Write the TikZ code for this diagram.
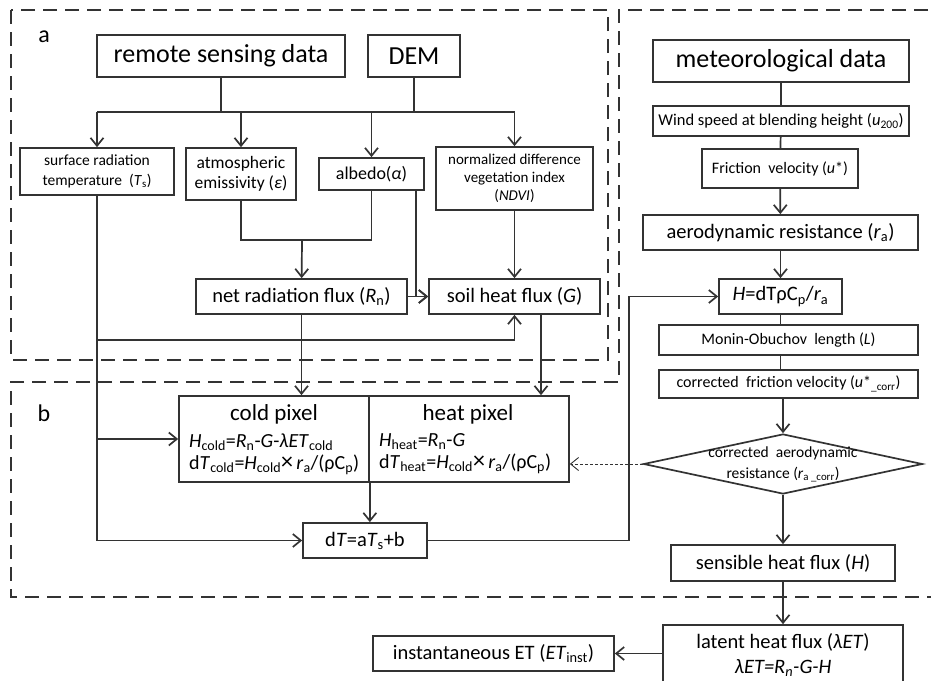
\documentclass[tikz,border=0pt]{standalone}
\usepackage{fontspec}
\setmainfont{Carlito}
\usetikzlibrary{arrows.meta,shapes.geometric}

\begin{document}
\begin{tikzpicture}[x=1pt,y=-1pt,
    box/.style={draw=black!80, line width=1.7pt, inner sep=0pt, align=center},
    link/.style={draw=black!80, line width=1.7pt},
    arr/.style={-{Straight Barb[length=8pt,width=13pt]}},
    frame/.style={draw=black!80, line width=2.4pt, dash pattern=on 14pt off 8pt},
    t26/.style={font=\fontsize{26}{30}\selectfont},
    t23/.style={font=\fontsize{23}{26}\selectfont},
    t20/.style={font=\fontsize{20.5}{24}\selectfont},
    t16/.style={font=\fontsize{16}{19}\selectfont}]
    %%%%% START %%%%%
    \useasboundingbox (0,0) rectangle (931,680);

    % dashed regions
    \draw[frame] (11,10) rectangle (608,360);
    \draw[frame] (950,10) -- (619,10) -- (619,382) -- (11,382) -- (11,597) -- (950,597);
    \node[font=\fontsize{24}{26}\selectfont] (lbla) at (44,37) {a};
    \node[font=\fontsize{24}{26}\selectfont] (lblb) at (44,413) {b};

    % part a
    \node[box,t26,minimum width=248pt,minimum height=42pt] (rsd) at (221,56) {remote sensing data};
    \node[box,t26,minimum width=92pt,minimum height=42pt] (dem) at (414,56) {DEM};
    \node[box,font=\fontsize{15.5}{20}\selectfont,minimum width=154pt,minimum height=47pt] (ts) at (97,171.5) {surface radiation\\temperature~~(\textit{T}\textsubscript{s})};
    \node[box,font=\fontsize{17.5}{20}\selectfont,minimum width=110pt,minimum height=52pt] (atm) at (241,174) {atmospheric\\emissivity (\textit{ε})};
    \node[box,font=\fontsize{18}{20}\selectfont,minimum width=105pt,minimum height=32pt] (alb) at (371.5,174) {albedo(\textit{α})};
    \node[box,font=\fontsize{15}{18}\selectfont,minimum width=157pt,minimum height=63pt] (ndvi) at (514.5,178.5) {normalized difference\\vegetation index\\(\textit{NDVI})};
    \node[box,t20,minimum width=211pt,minimum height=35pt] (netrad) at (301.5,296.5) {net radiation flux (\textit{R}\textsubscript{n})};
    \node[box,t20,minimum width=171pt,minimum height=35pt] (soil) at (514.5,296.5) {soil heat flux (\textit{G})};

    \coordinate (bus) at (222,112);
    \draw[link] (rsd) -- (rsd |- bus);
    \draw[link] (dem) -- (dem |- bus);
    \draw[link] (ts |- bus) -- (ndvi |- bus);
    \foreach \n in {ts,atm,alb,ndvi}
        \draw[link,arr] (\n |- bus) -- (\n);

    \coordinate (mrg) at (302,240);
    \draw[link] (atm) |- (mrg) -| (alb);
    \draw[link,arr] (mrg) -- (netrad);
    \draw[link,arr] ([xshift=44.5pt]alb.south) |- (soil);
    \draw[link,arr] (netrad) -- (soil);
    \draw[link,arr] (ndvi) -- (soil);

    % part b
    \node[box,minimum width=190pt,minimum height=86pt] (cold) at (274,439) {};
    \node[box,minimum width=200pt,minimum height=86pt] (heat) at (469,439) {};
    \node[t23] (coldt) at (274,414) {cold pixel};
    \node[t23] (heatt) at (468,414) {heat pixel};
    \node[font=\fontsize{20}{22}\selectfont,align=left,anchor=west,inner sep=0pt] (coldf) at (189,454)
        {\textit{H}\textsubscript{cold}=\textit{R}\textsubscript{n}-\textit{G}-\textit{λET}\textsubscript{cold}\\
         d\textit{T}\textsubscript{cold}=\textit{H}\textsubscript{cold}{\fontsize{24}{22}\selectfont×}\,\textit{r}\textsubscript{a}/(ρC\textsubscript{p})};
    \node[font=\fontsize{20}{22}\selectfont,align=left,anchor=west,inner sep=0pt] (heatf) at (379,454)
        {\textit{H}\textsubscript{heat}=\textit{R}\textsubscript{n}-\textit{G}\\
         d\textit{T}\textsubscript{heat}=\textit{H}\textsubscript{cold}{\fontsize{24}{22}\selectfont×}\,\textit{r}\textsubscript{a}/(ρC\textsubscript{p})};
    \node[box,t20,minimum width=124pt,minimum height=35pt] (dT) at (365,540.5) {d\textit{T}=a\textit{T}\textsubscript{s}+b};

    \coordinate (gy) at (97,340);
    \coordinate (sd) at (541,314);
    \draw[link,arr] (ts) |- (dT);
    \draw[link,arr] (gy) -| (soil);
    \draw[link,arr] (ts |- cold) -- (cold);
    \draw[link,arr] (netrad) -- (netrad |- cold.north);
    \draw[link,arr] (sd) -- (sd |- heat.north);
    \draw[link,arr] (cold.south east) -- (cold.south east |- dT.north);

    % meteorological side
    \node[box,t26,minimum width=256pt,minimum height=42pt] (met) at (781,61) {meteorological data};
    \node[box,font=\fontsize{16.5}{19}\selectfont,minimum width=256pt,minimum height=30pt] (wind) at (781,121) {Wind speed at blending height (\textit{u}\textsubscript{200})};
    \node[box,t16,minimum width=156pt,minimum height=39pt] (fric) at (780,168.5) {Friction~ velocity (\textit{u}*)};
    \node[box,t20,minimum width=275pt,minimum height=35pt] (aero) at (780.5,232.5) {aerodynamic resistance (\textit{r}\textsubscript{a})};
    \node[box,t20,minimum width=123pt,minimum height=35pt] (hbox) at (780.5,296.5) {\textit{H}=dTρC\textsubscript{p}/\textit{r}\textsubscript{a}};
    \node[box,t16,minimum width=259pt,minimum height=30pt] (monin) at (788.5,340) {Monin-Obuchov~ length (\textit{L})};
    \node[box,t16,minimum width=259pt,minimum height=28pt] (cfric) at (788.5,384) {corrected~ friction velocity (\textit{u}*\textsubscript{\_corr})};
    \node[draw=black!80,line width=1.7pt,diamond,minimum width=279pt,minimum height=60pt,inner sep=0pt] (crd) at (783,464) {};
    \node[font=\fontsize{15.5}{21}\selectfont,align=center] (crdt) at (783,464) {corrected~ aerodynamic\\resistance (\textit{r}\textsubscript{a \_corr})};
    \node[box,t20,minimum width=224pt,minimum height=36pt] (sens) at (783,563) {sensible heat flux (\textit{H})};
    \node[box,font=\fontsize{20.5}{25}\selectfont,minimum width=240pt,minimum height=60pt] (lat) at (783,655) {latent heat flux (\textit{λET})\\\textit{λET=R\textsubscript{n}-G-H}};
    \node[box,t20,minimum width=241pt,minimum height=35pt] (inst) at (493.5,653.5) {instantaneous ET (\textit{ET}\textsubscript{inst})};

    \coordinate (turn) at (629,296.5);
    \draw[link,arr] (dT) -| (turn) -- (hbox);
    \draw[link] (met) -- (wind);
    \draw[link] (wind) -- (fric);
    \draw[link,arr] (fric) -- (aero);
    \draw[link,arr] (aero) -- (hbox);
    \draw[link] (hbox) -- (hbox |- monin.north);
    \draw[link] (hbox |- monin.south) -- (hbox |- cfric.north);
    \draw[link,arr] (crd |- cfric.south) -- (crd);
    \draw[link,arr] (crd) -- (sens);
    \draw[link,arr] (sens) -- (lat);
    \draw[link,arr] (lat.west |- inst) -- (inst);
    \draw[link,arr,line width=0.9pt,dash pattern=on 3pt off 2pt] (crd.west) -- (crd.west -| heat.east);
    %%%%% END %%%%%
\end{tikzpicture}
\end{document}
